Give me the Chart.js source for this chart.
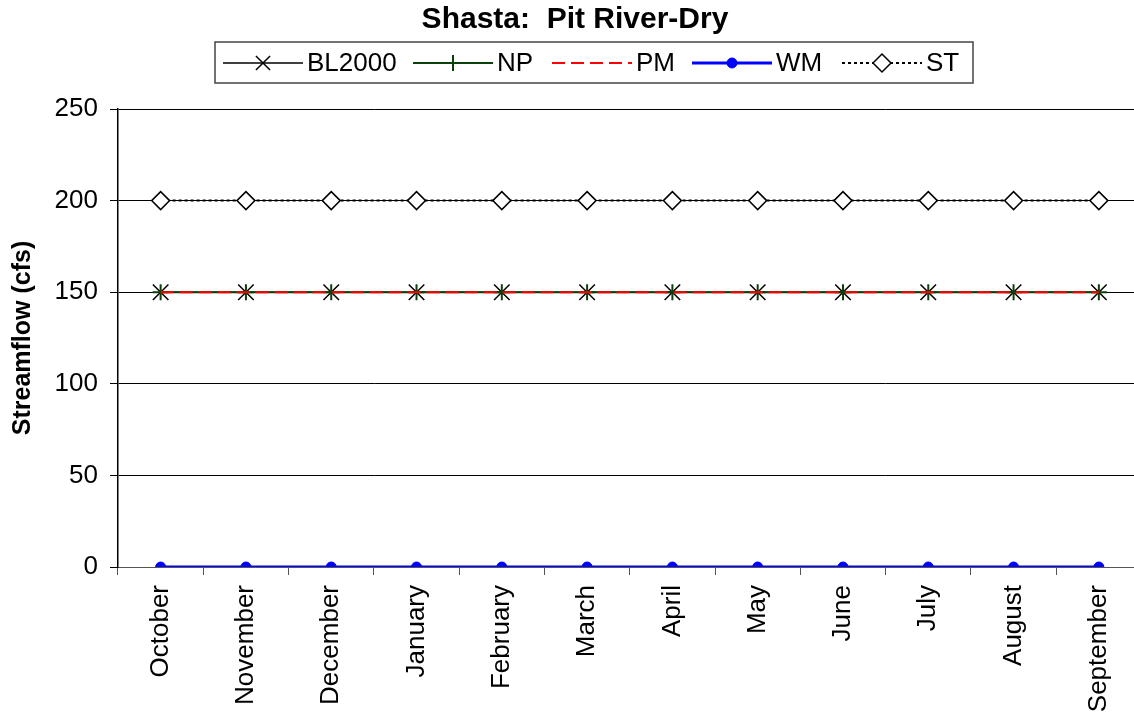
<!DOCTYPE html>
<html>
<head>
<meta charset="utf-8">
<title>Shasta: Pit River-Dry</title>
<script src="https://cdn.jsdelivr.net/npm/chart.js@4"></script>
<style>
    html, body { margin: 0; padding: 0; background: #fff; overflow: hidden; }
    #wrap { width: 1154px; height: 719px; }
</style>
</head>
<body>
<div id="wrap"><canvas id="flowChart" width="1154" height="719"></canvas></div>
<script>
// Chart data
const months = ['October', 'November', 'December', 'January', 'February', 'March',
                'April', 'May', 'June', 'July', 'August', 'September'];
const bl2000 = [150, 150, 150, 150, 150, 150, 150, 150, 150, 150, 150, 150];
const np     = [150, 150, 150, 150, 150, 150, 150, 150, 150, 150, 150, 150];
const pm     = [150, 150, 150, 150, 150, 150, 150, 150, 150, 150, 150, 150];
const wm     = [0, 0, 0, 0, 0, 0, 0, 0, 0, 0, 0, 0];
const st     = [200, 200, 200, 200, 200, 200, 200, 200, 200, 200, 200, 200];
const yTicks = [0, 50, 100, 150, 200, 250];

const chartTitle = 'Shasta:  Pit River-Dry';
const fontFamily = '"Liberation Sans", Arial, sans-serif';

// Title + boxed legend drawn on top of the chart (line sample with marker)
const boxLegend = {
    id: 'boxLegend',
    afterDraw(chart) {
        const ctx = chart.ctx;
        ctx.save();

        ctx.fillStyle = '#000';
        ctx.textAlign = 'center';
        ctx.textBaseline = 'middle';
        ctx.font = 'bold 30px ' + fontFamily;
        ctx.fillText(chartTitle, 575, 20);

        // legend box
        ctx.strokeStyle = '#444';
        ctx.lineWidth = 1.5;
        ctx.strokeRect(215, 42, 758, 41);

        const starts = [223, 413, 552, 692, 842];
        const y = 63;
        ctx.font = '26px ' + fontFamily;
        ctx.textAlign = 'left';

        chart.data.datasets.forEach((ds, i) => {
            const x = starts[i];
            ctx.save();
            ctx.strokeStyle = ds.borderColor;
            ctx.lineWidth = ds.borderWidth;
            ctx.setLineDash(ds.borderDash || []);
            ctx.beginPath();
            ctx.moveTo(x, y);
            ctx.lineTo(x + 80, y);
            ctx.stroke();
            ctx.restore();

            if (ds.pointRadius > 0) {
                ctx.save();
                ctx.strokeStyle = ds.pointBorderColor;
                ctx.fillStyle = ds.pointBackgroundColor;
                ctx.lineWidth = ds.pointBorderWidth;
                Chart.helpers.drawPoint(ctx, {
                    pointStyle: ds.pointStyle,
                    radius: ds.legendRadius || ds.pointRadius,
                    borderWidth: ds.pointBorderWidth,
                    rotation: 0
                }, x + 40, y);
                ctx.restore();
            }

            ctx.fillStyle = '#000';
            ctx.fillText(ds.label, x + 84, y + 1);
        });

        ctx.restore();
    }
};

const ctx = document.getElementById('flowChart').getContext('2d');

window.flowChart = new Chart(ctx, {
    type: 'line',
    data: {
        labels: months,
        datasets: [
            {
                label: 'BL2000',
                data: bl2000,
                borderColor: '#000',
                borderWidth: 1.5,
                pointStyle: 'crossRot',
                pointRadius: 11,
                legendRadius: 10,
                pointBorderColor: '#000',
                pointBackgroundColor: '#000',
                pointBorderWidth: 1.5,
                order: 3
            },
            {
                label: 'NP',
                data: np,
                borderColor: '#0a400a',
                borderWidth: 2,
                pointStyle: 'cross',
                pointRadius: 8,
                legendRadius: 8,
                pointBorderColor: '#0a400a',
                pointBackgroundColor: '#0a400a',
                pointBorderWidth: 2,
                order: 2
            },
            {
                label: 'PM',
                data: pm,
                borderColor: '#ff0000',
                borderWidth: 2,
                borderDash: [13, 6],
                pointRadius: 0,
                order: 1
            },
            {
                label: 'WM',
                data: wm,
                borderColor: '#0000ff',
                borderWidth: 3,
                pointStyle: 'circle',
                pointRadius: 5,
                legendRadius: 5,
                pointBorderColor: '#0000ff',
                pointBackgroundColor: '#0000ff',
                pointBorderWidth: 1,
                order: 0
            },
            {
                label: 'ST',
                data: st,
                borderColor: '#000',
                borderWidth: 2,
                borderDash: [3, 3],
                pointStyle: 'rectRot',
                pointRadius: 9,
                legendRadius: 9,
                pointBorderColor: '#000',
                pointBackgroundColor: '#fff',
                pointBorderWidth: 1.5,
                order: 0
            }
        ]
    },
    options: {
        responsive: false,
        animation: false,
        layout: { padding: { top: 109, right: 7, left: 0, bottom: 0 } },
        plugins: {
            legend: { display: false },
            title: { display: false },
            tooltip: { enabled: false }
        },
        scales: {
            x: {
                offset: true,
                grid: {
                    offset: true,
                    drawOnChartArea: false,
                    drawTicks: true,
                    tickLength: 8,
                    color: '#555'
                },
                border: { color: '#555' },
                ticks: {
                    minRotation: 90,
                    maxRotation: 90,
                    autoSkip: false,
                    padding: 10,
                    color: '#000',
                    font: { family: fontFamily, size: 26 }
                },
                afterFit(scale) { scale.height = 152; }
            },
            y: {
                min: 0,
                max: 250,
                afterBuildTicks(scale) {
                    scale.ticks = yTicks.map(v => ({ value: v }));
                },
                ticks: {
                    padding: 12,
                    color: '#000',
                    font: { family: fontFamily, size: 26 }
                },
                grid: { color: '#000', tickLength: 8 },
                border: { color: '#000', width: 1.5 },
                title: {
                    display: true,
                    text: 'Streamflow (cfs)',
                    color: '#000',
                    font: { family: fontFamily, size: 25, weight: 'bold' },
                    padding: { top: 8, bottom: 0 }
                },
                afterFit(scale) { scale.width = 118; }
            }
        }
    },
    plugins: [boxLegend]
});
</script>
</body>
</html>
